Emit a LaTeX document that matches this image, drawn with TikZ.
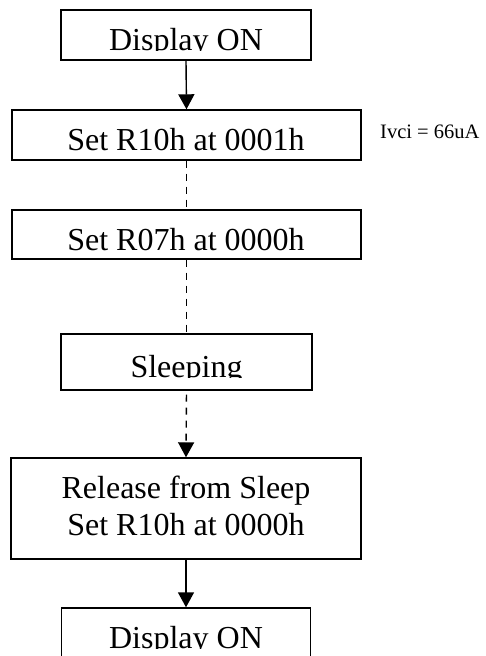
\documentclass[tikz,border=0pt]{standalone}
\usepackage{fontspec}
\setmainfont{Liberation Serif}
\usetikzlibrary{arrows.meta}
\begin{document}
\begin{tikzpicture}[x=1pt,y=-1pt,
  box/.style={draw,line width=1.4pt,inner sep=0pt,rectangle},
  txt/.style={inner sep=0pt,anchor=base,font=\fontsize{32}{37}\selectfont},
  arr/.style={line width=1.4pt,-{Triangle[length=15pt,width=16pt]}},
  dsh/.style={line width=1.4pt,dash pattern=on 7pt off 6pt}]
\useasboundingbox (0,0) rectangle (485,656);
% boxes
\node[box,minimum width=250pt,minimum height=50pt] (b1) at (186,35) {};
\node[box,minimum width=349pt,minimum height=50pt] (b2) at (186.5,135) {};
\node[box,minimum width=349pt,minimum height=49pt] (b3) at (186.5,234.5) {};
\node[box,minimum width=251pt,minimum height=56pt] (b4) at (186.5,362) {};
\node[box,minimum width=350pt,minimum height=101pt] (b5) at (186,508.5) {};
\node[box,minimum width=249pt,minimum height=80pt] (b6) at (186,648) {};
% texts
\begin{scope}
  \clip (0,0) rectangle (485,50);
  \node[txt] (t1) at (186,50) {Display ON};
\end{scope}
\node[txt] (t2) at (186,150) {Set R10h at 0001h};
\node[txt] (t3) at (186,250) {Set R07h at 0000h};
\begin{scope}
  \clip (0,300) rectangle (485,377);
  \node[txt] (t4) at (186.5,377) {Sleeping};
\end{scope}
\node[txt] (t5a) at (186,498) {Release from Sleep};
\node[txt] (t5b) at (186,535) {Set R10h at 0000h};
\begin{scope}
  \clip (0,600) rectangle (485,648);
  \node[txt] (t6) at (186,648) {Display ON};
\end{scope}
\node[inner sep=0pt,anchor=base west,font=\fontsize{20.5}{24}\selectfont] (ivci) at (380,138) {Ivci = 66uA};
% connectors
\draw[arr] (b1.south) -- (b2.north);
\draw[dsh] (b2.south) -- (b3.north);
\draw[dsh] (b3.south) -- (b4.north);
\draw[dsh,arr,shorten <=4pt] (b4.south) -- (b5.north);
\draw[arr] (b5.south) -- (b6.north);
\end{tikzpicture}
\end{document}
